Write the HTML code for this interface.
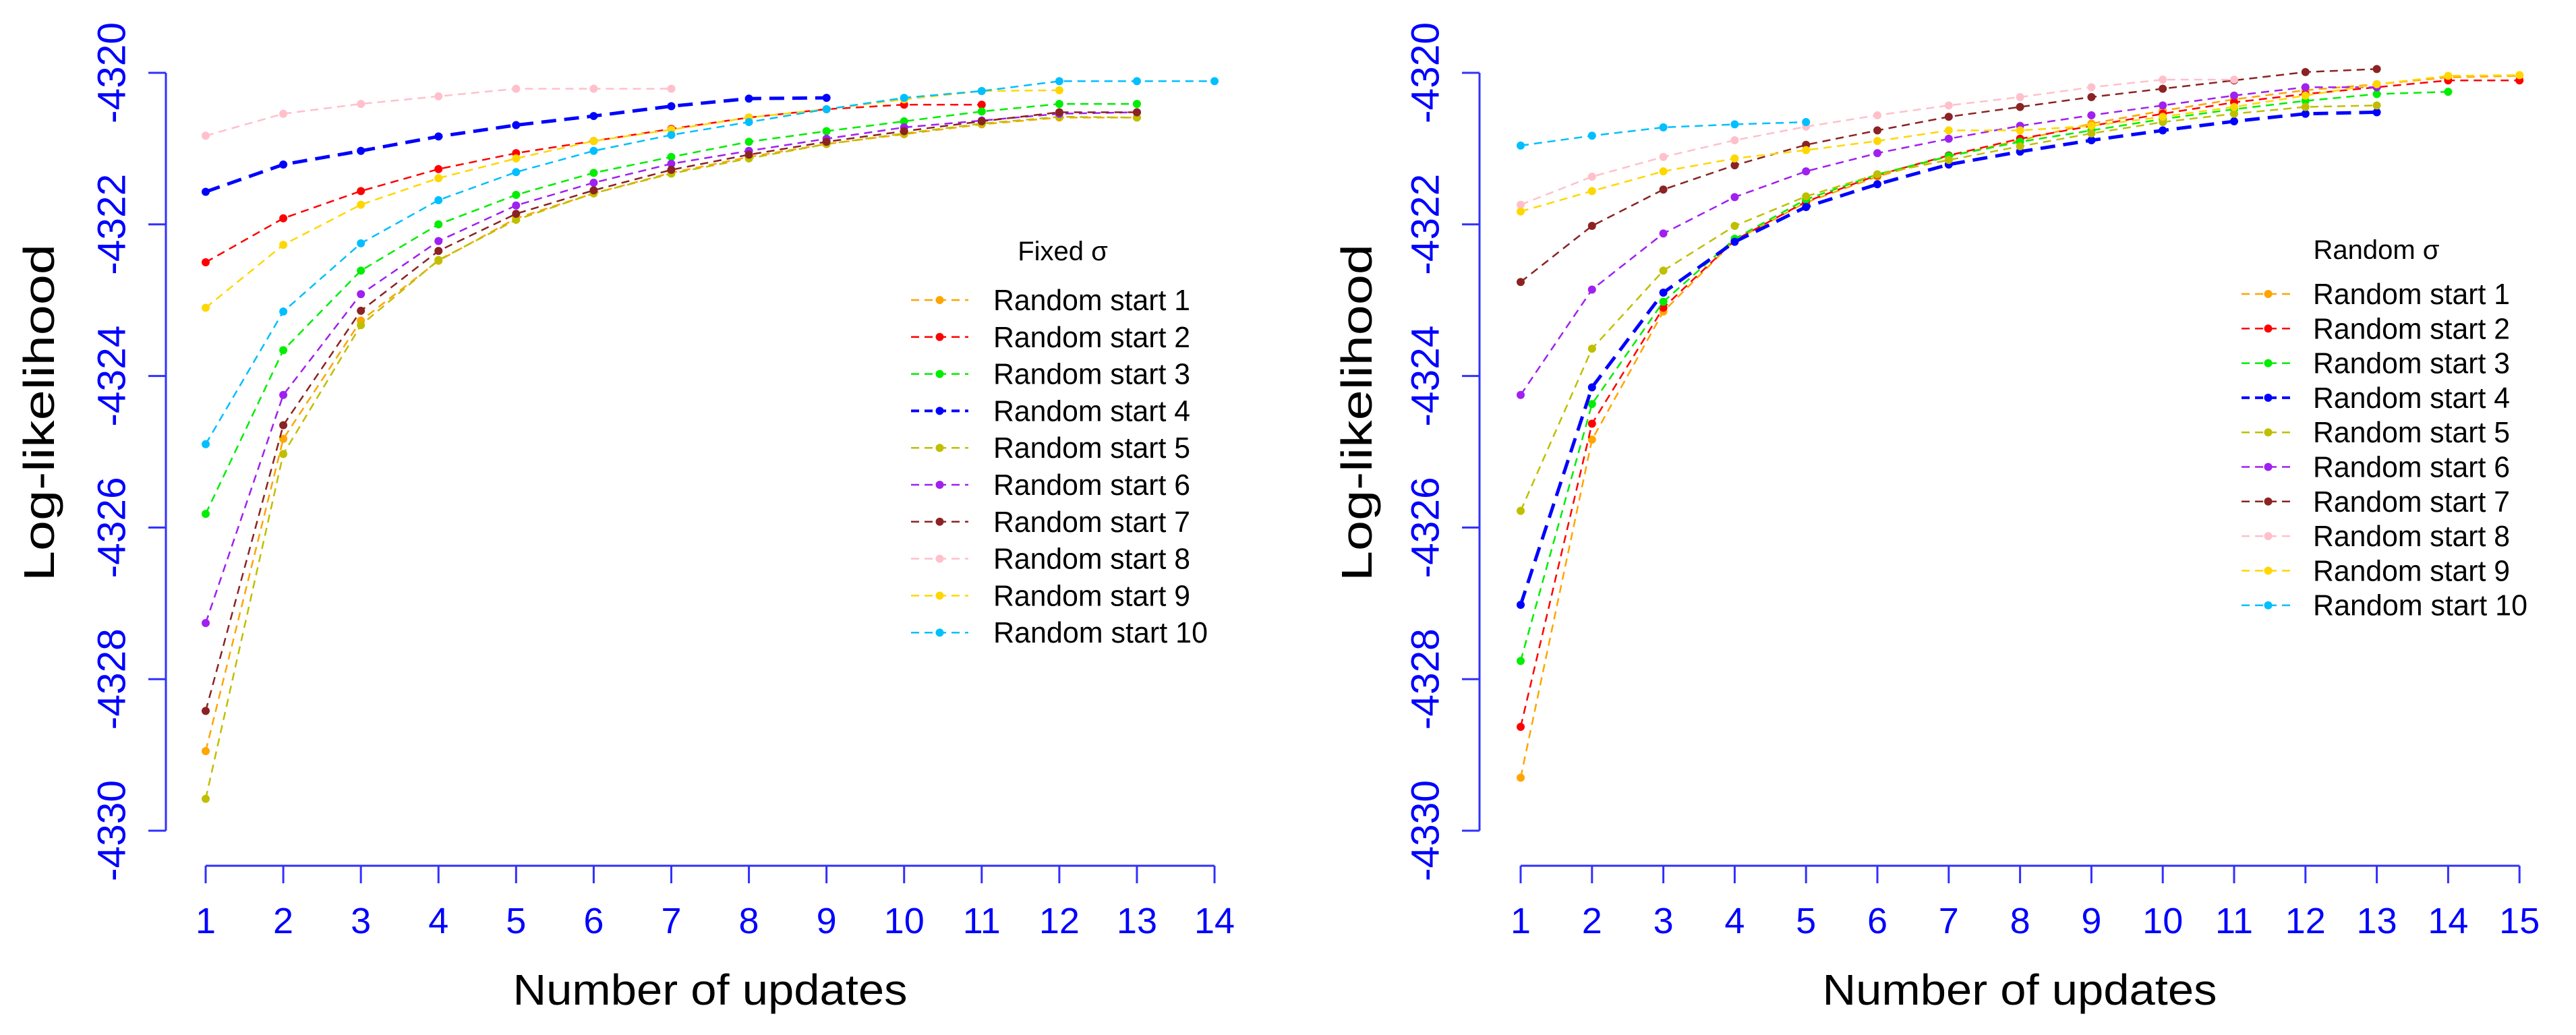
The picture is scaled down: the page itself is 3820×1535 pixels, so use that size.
<!DOCTYPE html>
<html><head><meta charset="utf-8"><style>
html,body{margin:0;padding:0;background:#fff;}
svg{display:block;font-family:"Liberation Sans",Arial,sans-serif;}
</style></head><body>
<svg id="chart" width="3820" height="1535" viewBox="0 0 3820 1535" xmlns="http://www.w3.org/2000/svg"></svg>
<script>
// ---- data ----
const seriesNames = ["Random start 1","Random start 2","Random start 3","Random start 4","Random start 5","Random start 6","Random start 7","Random start 8","Random start 9","Random start 10"];
const seriesColors = ["#FFA500","#FF0000","#00EE00","#0000FF","#BFBF00","#A020F0","#8B2323","#FFC0CB","#FFD700","#00BFFF"];
const yTicks = [-4320,-4322,-4324,-4326,-4328,-4330];
const xTicksFixed = [1,2,3,4,5,6,7,8,9,10,11,12,13,14];
const xTicksRandom = [1,2,3,4,5,6,7,8,9,10,11,12,13,14,15];
const fixedS1 = [-4328.95,-4324.83,-4323.27,-4322.48,-4321.92,-4321.59,-4321.32,-4321.11,-4320.94,-4320.81,-4320.68,-4320.59,-4320.59];
const fixedS2 = [-4322.50,-4321.92,-4321.56,-4321.27,-4321.06,-4320.90,-4320.74,-4320.59,-4320.48,-4320.42,-4320.42];
const fixedS3 = [-4325.82,-4323.66,-4322.61,-4322.00,-4321.61,-4321.32,-4321.11,-4320.91,-4320.77,-4320.64,-4320.51,-4320.41,-4320.41];
const fixedS4 = [-4321.57,-4321.21,-4321.03,-4320.84,-4320.69,-4320.57,-4320.44,-4320.34,-4320.33];
const fixedS5 = [-4329.58,-4325.03,-4323.33,-4322.47,-4321.94,-4321.59,-4321.33,-4321.13,-4320.94,-4320.80,-4320.67,-4320.58,-4320.59];
const fixedS6 = [-4327.26,-4324.25,-4322.92,-4322.22,-4321.75,-4321.45,-4321.20,-4321.03,-4320.87,-4320.72,-4320.63,-4320.54,-4320.52];
const fixedS7 = [-4328.42,-4324.65,-4323.14,-4322.35,-4321.86,-4321.55,-4321.28,-4321.08,-4320.91,-4320.77,-4320.64,-4320.52,-4320.52];
const fixedS8 = [-4320.83,-4320.54,-4320.41,-4320.31,-4320.21,-4320.21,-4320.21];
const fixedS9 = [-4323.10,-4322.27,-4321.74,-4321.39,-4321.13,-4320.90,-4320.75,-4320.59,-4320.48,-4320.35,-4320.24,-4320.23];
const fixedS10 = [-4324.90,-4323.15,-4322.25,-4321.68,-4321.31,-4321.03,-4320.82,-4320.65,-4320.48,-4320.33,-4320.24,-4320.11,-4320.11,-4320.11];
const randS1 = [-4329.30,-4324.84,-4323.15,-4322.21,-4321.71,-4321.37,-4321.10,-4320.89,-4320.67,-4320.50,-4320.35,-4320.23,-4320.15,-4320.06,-4320.04];
const randS2 = [-4328.63,-4324.63,-4323.10,-4322.21,-4321.70,-4321.35,-4321.09,-4320.87,-4320.70,-4320.54,-4320.39,-4320.28,-4320.19,-4320.10,-4320.10];
const randS3 = [-4327.76,-4324.37,-4323.02,-4322.19,-4321.67,-4321.34,-4321.10,-4320.91,-4320.76,-4320.61,-4320.48,-4320.37,-4320.28,-4320.25];
const randS4 = [-4327.02,-4324.15,-4322.90,-4322.23,-4321.77,-4321.47,-4321.21,-4321.04,-4320.89,-4320.76,-4320.64,-4320.54,-4320.52];
const randS5 = [-4325.78,-4323.64,-4322.61,-4322.02,-4321.63,-4321.34,-4321.15,-4320.97,-4320.80,-4320.65,-4320.54,-4320.45,-4320.43];
const randS6 = [-4324.25,-4322.86,-4322.12,-4321.64,-4321.30,-4321.06,-4320.87,-4320.70,-4320.56,-4320.43,-4320.30,-4320.19,-4320.19];
const randS7 = [-4322.76,-4322.02,-4321.54,-4321.22,-4320.95,-4320.76,-4320.58,-4320.45,-4320.32,-4320.21,-4320.10,-4319.99,-4319.95];
const randS8 = [-4321.74,-4321.37,-4321.11,-4320.89,-4320.71,-4320.56,-4320.43,-4320.32,-4320.19,-4320.09,-4320.09];
const randS9 = [-4321.83,-4321.56,-4321.30,-4321.13,-4321.02,-4320.90,-4320.76,-4320.76,-4320.70,-4320.58,-4320.45,-4320.30,-4320.15,-4320.04,-4320.03];
const randS10 = [-4320.96,-4320.83,-4320.72,-4320.68,-4320.65];
const fixedSeries = [fixedS1,fixedS2,fixedS3,fixedS4,fixedS5,fixedS6,fixedS7,fixedS8,fixedS9,fixedS10];
const randSeries = [randS1,randS2,randS3,randS4,randS5,randS6,randS7,randS8,randS9,randS10];

const NS="http://www.w3.org/2000/svg";
const svg=document.getElementById('chart');
const AX="#3030FF";
function mk(tag,attrs,parent){const e=document.createElementNS(NS,tag);for(const k in attrs)e.setAttribute(k,attrs[k]);(parent||svg).appendChild(e);return e;}

function panel(cfg){
  const g=mk('g',{});
  
  
  const yScale=v=>108+(-4320-v)*112.4;
  const xScale=i=>cfg.x0+(i-1)*cfg.dx;
  const ya=mk('line',{x1:cfg.yAxisX,x2:cfg.yAxisX,y1:yScale(-4320),y2:yScale(-4330),stroke:AX,'stroke-width':3},g);
  
  
  yTicks.forEach(t=>{
    const y=yScale(t);
    mk('line',{x1:cfg.yAxisX-26,x2:cfg.yAxisX,y1:y,y2:y,stroke:AX,'stroke-width':3},g);
    const tx=mk('text',{x:0,y:0,transform:`translate(${cfg.yAxisX-80},${y}) rotate(-90)`,'text-anchor':'middle','dominant-baseline':'central','font-size':58,fill:'#0000FF',textLength:150,lengthAdjust:'spacingAndGlyphs'},g);
    tx.textContent=String(t);
    
    
  });
  const xt=cfg.xTicks;
  const xa=mk('line',{x1:xScale(xt[0]),x2:xScale(xt[xt.length-1]),y1:1284,y2:1284,stroke:AX,'stroke-width':3},g);
  
  
  xt.forEach(t=>{
    const x=xScale(t);
    mk('line',{x1:x,x2:x,y1:1284,y2:1310,stroke:AX,'stroke-width':3},g);
    const tx=mk('text',{x:x,y:1384,'text-anchor':'middle','font-size':54,fill:'#0000FF'},g);
    tx.textContent=String(t);
    
    
  });
  const xtl=mk('text',{x:cfg.xTitleX,y:1490,'text-anchor':'middle','font-size':64,fill:'#000',textLength:585,lengthAdjust:'spacingAndGlyphs'},g);
  xtl.textContent='Number of updates';
  
  
  const ytl=mk('text',{x:0,y:0,transform:`translate(${cfg.yTitleX},612) rotate(-90)`,'text-anchor':'middle','dominant-baseline':'central','font-size':64,fill:'#000',textLength:500,lengthAdjust:'spacingAndGlyphs'},g);
  ytl.textContent='Log-likelihood';
  
  
  cfg.series.forEach((vals,si)=>{
    const sg=mk('g',{},g);
    
    
    const thick=si===3;
    const pts=vals.map((v,i)=>xScale(i+1)+','+yScale(v)).join(' ');
    mk('polyline',{points:pts,fill:'none',stroke:seriesColors[si],'stroke-width':thick?5:2.5,'stroke-dasharray':thick?'22,12':'12,8'},sg);
    vals.forEach((v,i)=>{
      const c=mk('circle',{cx:xScale(i+1),cy:yScale(v),r:6,fill:seriesColors[si]},sg);
      
      
    });
  });
  const lg=mk('g',{},g);
  
  
  const lt=mk('text',{x:cfg.legTitleX,y:cfg.legTitleY+14,'text-anchor':'middle','font-size':40,fill:'#000'},lg);
  lt.textContent=cfg.legTitle;
  
  
  seriesNames.forEach((n,i)=>{
    const y=cfg.legY0+i*cfg.legDy;
    const e=mk('g',{},lg);
    
    
    mk('line',{x1:cfg.legLx1,x2:cfg.legLx2,y1:y,y2:y,stroke:seriesColors[i],'stroke-width':i===3?4:2.5,'stroke-dasharray':'12,8'},e);
    mk('circle',{cx:(cfg.legLx1+cfg.legLx2)/2,cy:y,r:6,fill:seriesColors[i]},e);
    const tx=mk('text',{x:cfg.legTx,y:y+15,'font-size':44,fill:'#000',textLength:i===9?318:292,lengthAdjust:'spacingAndGlyphs'},e);
    tx.textContent=n;
  });
}
panel({name:'fixed-sigma-panel',x0:305,dx:115.08,yAxisX:246,xTicks:xTicksFixed,xTitleX:1053,yTitleX:58,series:fixedSeries,
  legTitle:'Fixed σ',legTitleX:1576,legTitleY:372,legY0:445,legDy:54.8,legLx1:1351,legLx2:1436,legTx:1473});
panel({name:'random-sigma-panel',x0:2255,dx:105.8,yAxisX:2194,xTicks:xTicksRandom,xTitleX:2995,yTitleX:2012,series:randSeries,
  legTitle:'Random σ',legTitleX:3524,legTitleY:370,legY0:436,legDy:51.3,legLx1:3324,legLx2:3403,legTx:3430});
</script>
</body></html>
